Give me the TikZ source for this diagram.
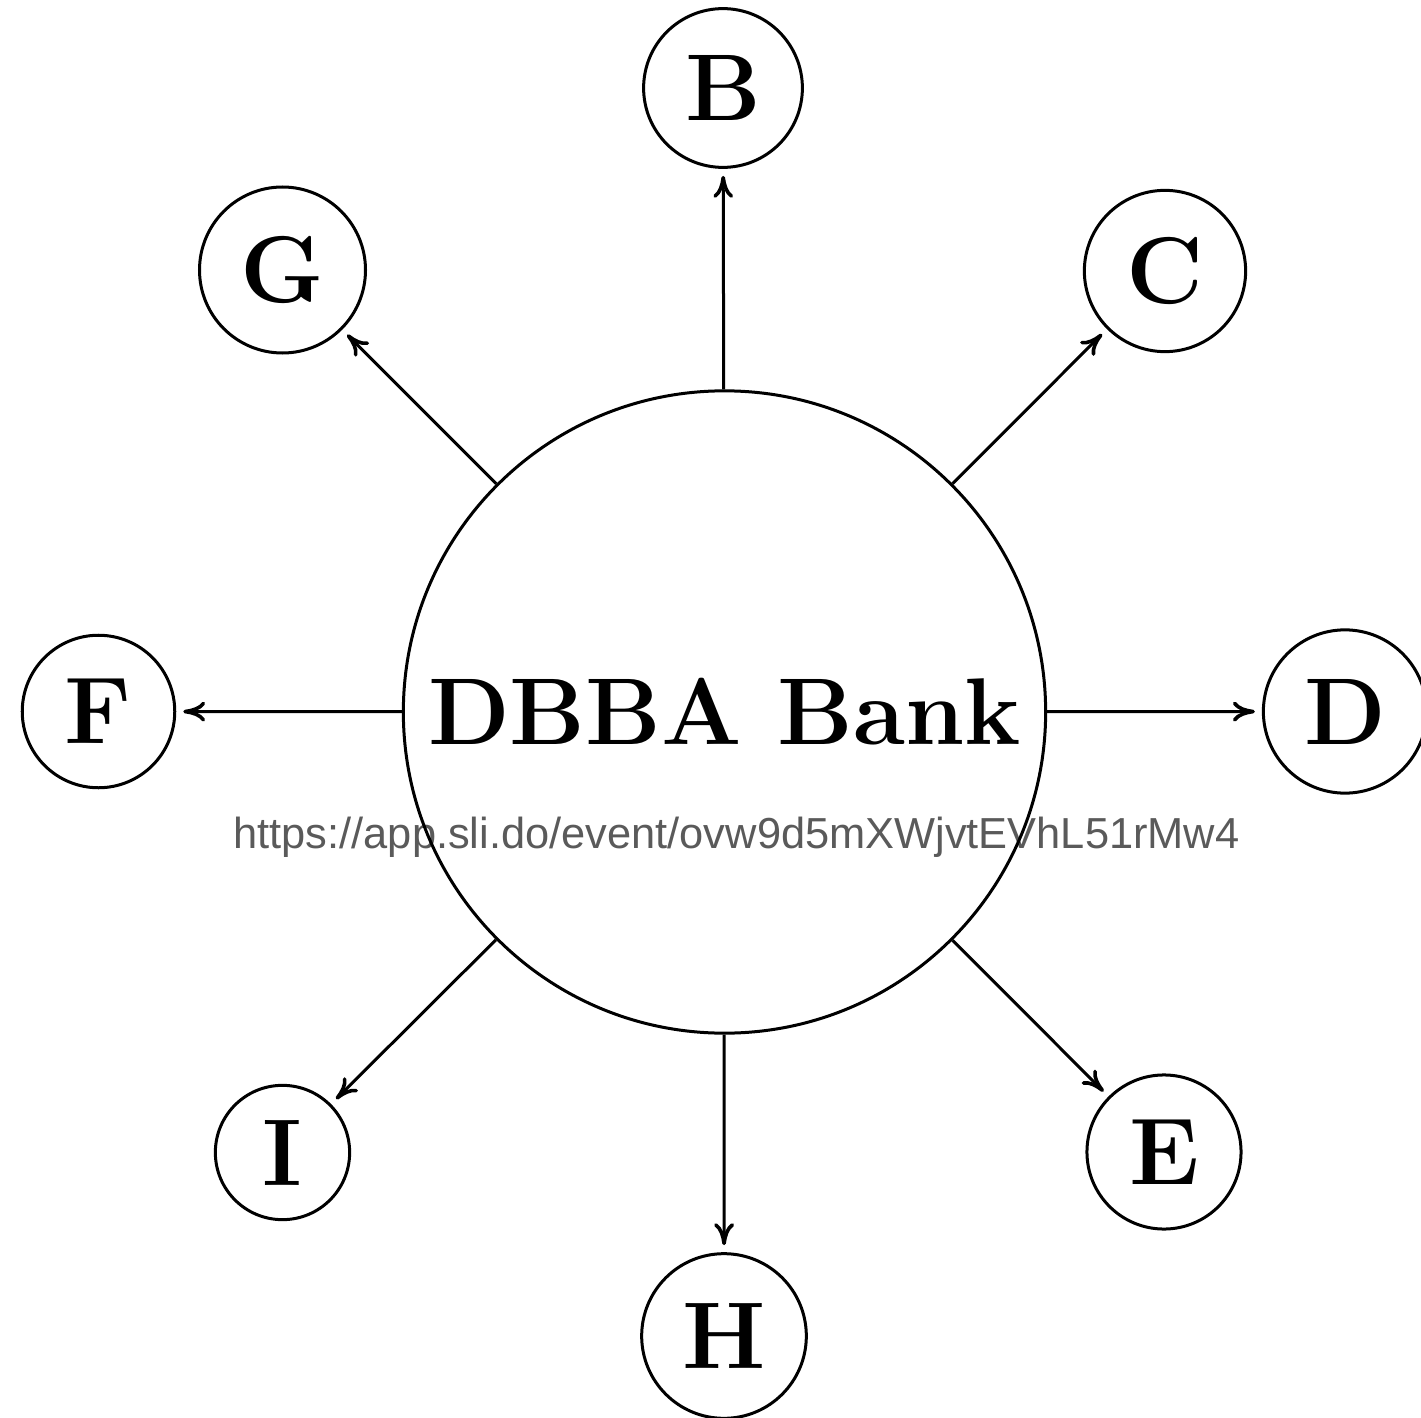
\documentclass[tikz,border=0pt]{standalone}
\usepackage{fontspec}
\newfontfamily\urlfont{Liberation Sans}
\usetikzlibrary{arrows.meta}
\definecolor{urlgray}{RGB}{90,90,90}
\tikzset{
  ent/.style={circle, draw, line width=1.5pt, inner sep=10.5pt,
    font=\fontsize{47.4}{56}\selectfont\bfseries},
  link/.style={line width=1.5pt,
    -{Computer Modern Rightarrow[length=11pt,width=10pt,line width=1.8pt]}, shorten >=3.5pt},
}
\begin{document}
\begin{tikzpicture}[x=0.5pt, y=-0.5pt]
  \useasboundingbox (0,0) rectangle (1421,1418);
  % link under the hub
  \node[font=\urlfont\fontsize{21.7}{26}\selectfont, text=urlgray, anchor=base, inner sep=0pt]
    (url) at (736.5,848) {https://app.sli.do/event/ovw9d5mXWjvtEVhL51rMw4};
  % hub
  \node[ent] (M) at (724.5,712) {DBBA Bank};
  % satellites
  \node[ent] (B) at (723,88) {B};
  \node[ent] (C) at (1165,271) {C};
  \node[ent] (D) at (1345,711.5) {D};
  \node[ent] (E) at (1164,1152) {E};
  \node[ent] (H) at (724,1336) {H};
  \node[ent] (I) at (282.5,1152.5) {I};
  \node[ent] (F) at (98.5,711.5) {F};
  \node[ent] (G) at (282.5,270) {G};
  % spokes
  \foreach \t in {B,C,D,E,H,I,F,G}
    \draw[link] (M) -- (\t);
\end{tikzpicture}
\end{document}
